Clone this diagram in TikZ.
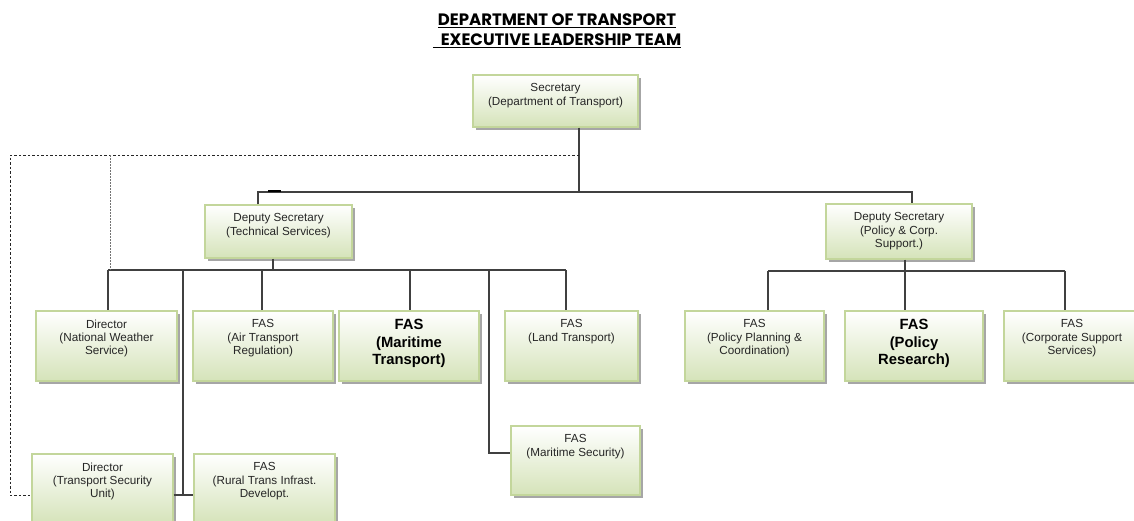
\documentclass[tikz,border=0pt]{standalone}
\usepackage{fontspec}
\setmainfont{Liberation Sans}
\newfontfamily\titlefont{Poppins}
\usetikzlibrary{shadows}
\definecolor{boxline}{HTML}{C3D69B}
\definecolor{boxfill}{HTML}{D5E3B9}
\definecolor{linkgray}{HTML}{404040}
\definecolor{txtgray}{HTML}{262626}

\begin{document}
\begin{tikzpicture}[x=1pt,y=-1pt,
  unit/.style={draw=boxline, line width=1.2pt, top color=white, bottom color=boxfill,
    minimum width=140pt, minimum height=70pt, inner sep=0pt,
    drop shadow={shadow xshift=2.5pt, shadow yshift=-2.5pt, fill=black!35, opacity=1}},
  txt/.style={font=\fontsize{11.7}{13.3}\selectfont, text=txtgray, align=center, anchor=north, inner sep=0pt, yshift=-9pt},
  big/.style={txt, font=\fontsize{14.8}{17.5}\selectfont\bfseries, text=black},
  link/.style={draw=linkgray, line width=1.1pt},
  dashlink/.style={draw=black!85, line width=0.9pt, dash pattern=on 2.5pt off 2pt},
  dotlink/.style={draw=black!55, line width=0.9pt, dash pattern=on 1.5pt off 1.5pt}]

  \useasboundingbox (0,0) rectangle (1134,520);

  \node[font=\titlefont\bfseries\fontsize{16.5}{20}\selectfont, align=center] (title) at (557,31)
    {\underline{DEPARTMENT OF TRANSPORT}\\\underline{\hspace{8pt}EXECUTIVE LEADERSHIP TEAM}};

  \node[unit, minimum width=165pt, minimum height=52pt, label={[txt]north:{Secretary\\(Department of Transport)}}] (sec) at (555.5,101) {};
  \node[unit, minimum width=147pt, minimum height=53pt, label={[txt]north:{Deputy Secretary\\(Technical Services)}}] (tech) at (278.5,231.5) {};
  \node[unit, minimum width=146pt, minimum height=55pt, label={[txt]north:{Deputy Secretary\\(Policy \& Corp.\\Support.)}}] (pcs) at (899,231.5) {};

  \node[unit, minimum width=141pt, label={[txt]north:{Director\\(National Weather\\Service)}}] (nws) at (106.5,346) {};
  \node[unit, label={[txt]north:{FAS\\(Air Transport\\Regulation)}}] (air) at (263,346) {};
  \node[unit, label={[big]north:{FAS\\(Maritime\\Transport)}}] (mart) at (409,346) {};
  \node[unit, minimum width=133pt, label={[txt]north:{FAS\\(Land Transport)}}] (land) at (571.5,346) {};
  \node[unit, minimum width=139pt, label={[txt]north:{FAS\\(Policy Planning \&\\Coordination)}}] (ppc) at (754.5,346) {};
  \node[unit, minimum width=138pt, label={[big]north:{FAS\\(Policy\\Research)}}] (pres) at (914,346) {};
  \node[unit, minimum width=136pt, label={[txt]north:{FAS\\(Corporate Support\\Services)}}] (corp) at (1072,346) {};

  \node[unit, minimum width=129pt, minimum height=69pt, label={[txt]north:{FAS\\(Maritime Security)}}] (mars) at (575.5,460.5) {};
  \node[unit, minimum width=141pt, label={[txt]north:{Director\\(Transport Security\\Unit)}}] (tsu) at (102.5,489) {};
  \node[unit, minimum width=141pt, label={[txt]north:{FAS\\(Rural Trans Infrast.\\Developt.}}] (rural) at (264.5,489) {};

  \coordinate (sbus) at (579,192);
  \coordinate (tbus) at (273,270);
  \coordinate (pbus) at (905,271);
  \coordinate (rjoin) at (183,495);
  \coordinate (mjoin) at (489,453);
  \coordinate (dtop) at (579,155);

  \draw[link] (sec.south -| sbus) -- (sbus);
  \draw[link] (tech.north -| 258,0) -- (258,192) -- (912,192) -- (pcs.north -| 912,0);
  \draw[line width=1.6pt, black] (268,191) -- (281,191);

  \draw[link] (tech.south -| tbus) -- (tbus);
  \draw[link] (108,270) -- (566,270);
  \draw[link] (108,270) -- (nws.north -| 108,0);
  \draw[link] (262,270) -- (air.north -| 262,0);
  \draw[link] (410,270) -- (mart.north -| 410,0);
  \draw[link] (566,270) -- (land.north -| 566,0);
  \draw[link] (183,270) -- (rjoin);
  \draw[link] (tsu.east |- rjoin) -- (rural.west |- rjoin);
  \draw[link] (489,270) -- (mjoin) -- (mars.west |- mjoin);

  \draw[link] (pcs.south -| pbus) -- (pbus);
  \draw[link] (768,271) -- (1065,271);
  \draw[link] (768,271) -- (ppc.north -| 768,0);
  \draw[link] (pbus) -- (pres.north -| pbus);
  \draw[link] (1065,271) -- (corp.north -| 1065,0);

  \draw[dashlink] (dtop) -- (10,155) -- (10,495) -- (tsu.west |- rjoin);
  \draw[dotlink] (110,155) -- (110,270);
\end{tikzpicture}
\end{document}
